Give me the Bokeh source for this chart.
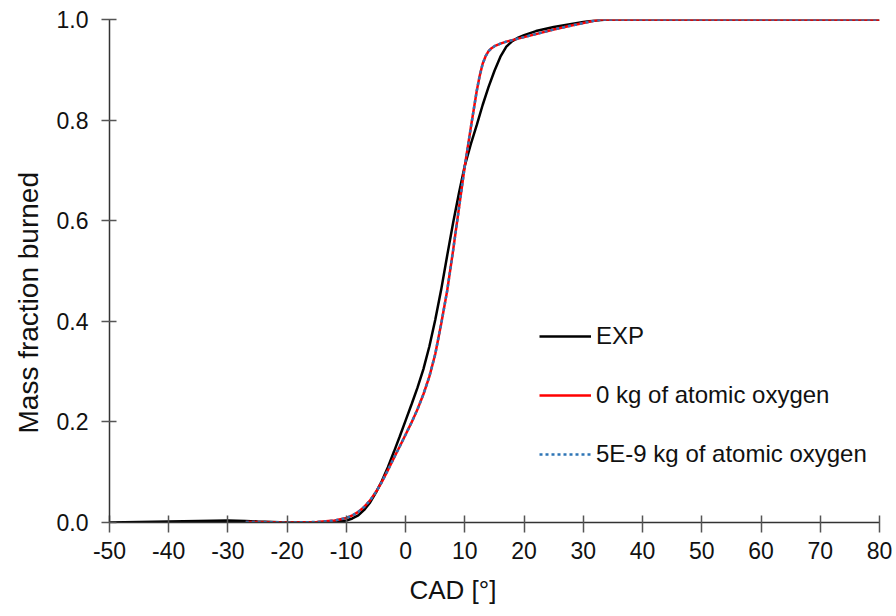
from bokeh.plotting import figure
from bokeh.models import Range1d, Legend, LegendItem, FixedTicker, Title
from bokeh.embed import file_html
from bokeh.resources import INLINE

# Experimental mass fraction burned vs crank angle
exp_cad = [-50, -45, -40, -35, -30, -27, -25, -20, -15, -12, -10, -9, -8, -7, -6, -5, -4,
           -3, -2, -1, 0, 1, 2, 3, 4, 5, 6, 7, 8, 9, 10, 11, 12, 13, 14, 15, 16, 17, 18,
           19, 20, 22, 25, 28, 30, 32, 34, 40, 50, 60, 70, 80]
exp_mfb = [0.000, 0.001, 0.002, 0.003, 0.004, 0.003, 0.002, 0.000, 0.000, 0.001, 0.004,
           0.008, 0.014, 0.025, 0.040, 0.060, 0.083, 0.110, 0.140, 0.171, 0.203, 0.235,
           0.268, 0.305, 0.350, 0.403, 0.463, 0.530, 0.595, 0.655, 0.710, 0.752, 0.790,
           0.830, 0.866, 0.898, 0.926, 0.946, 0.957, 0.964, 0.969, 0.977, 0.985, 0.991,
           0.995, 0.998, 1.000, 1.000, 1.000, 1.000, 1.000, 1.000]

# Simulated curves (both cases coincide)
sim_cad = [-27, -25, -20, -15, -12, -10, -9, -8, -7, -6, -5, -4, -3, -2, -1, 0, 1, 2, 3,
           4, 5, 6, 7, 8, 9, 10, 11, 12, 12.5, 13, 13.5, 14, 14.5, 15, 16, 17, 18, 20, 22,
           25, 28, 30, 32, 33, 40, 50, 60, 70, 80]
sim_mfb_0 = [0.001, 0.001, 0.000, 0.001, 0.004, 0.009, 0.014, 0.021, 0.031, 0.044, 0.061,
             0.081, 0.104, 0.128, 0.151, 0.175, 0.199, 0.225, 0.255, 0.290, 0.335, 0.395,
             0.460, 0.540, 0.625, 0.710, 0.785, 0.858, 0.888, 0.912, 0.927, 0.937, 0.943,
             0.947, 0.952, 0.956, 0.959, 0.965, 0.971, 0.980, 0.988, 0.993, 0.998, 1.000,
             1.000, 1.000, 1.000, 1.000, 1.000]
sim_mfb_5e9 = list(sim_mfb_0)

x_ticks = list(range(-50, 81, 10))
y_ticks = [0.0, 0.2, 0.4, 0.6, 0.8, 1.0]

FONT = "Liberation Sans"

p = figure(width=896, height=616, output_backend="svg", toolbar_location=None,
           x_range=Range1d(-50, 80), y_range=Range1d(0, 1.0),
           min_border_left=109, min_border_right=17, min_border_top=19,
           min_border_bottom=94)
p.outline_line_color = None
p.grid.visible = False
p.background_fill_color = "white"
p.border_fill_color = "white"

r_exp = p.line(exp_cad, exp_mfb, line_color="black", line_width=2.5)
r_0 = p.line(sim_cad, sim_mfb_0, line_color="#ff0000", line_width=2.5)
r_5 = p.line(sim_cad, sim_mfb_5e9, line_color="#2e75b6", line_width=2.5,
             line_dash="3 3")

for ax in (p.xaxis[0], p.yaxis[0]):
    ax.axis_line_color = "#333333"
    ax.axis_line_width = 1.5
    ax.major_tick_line_color = "#555555"
    ax.major_tick_line_width = 1.5
    ax.minor_tick_line_color = None
    ax.major_label_text_font = FONT
    ax.major_label_text_font_size = "23px"
    ax.major_label_text_color = "#111111"

p.xaxis.ticker = FixedTicker(ticks=x_ticks)
p.xaxis.major_label_overrides = {t: str(t) for t in x_ticks}
p.xaxis.major_tick_in = 7
p.xaxis.major_tick_out = 10
p.xaxis.major_label_standoff = 9

p.yaxis.ticker = FixedTicker(ticks=y_ticks)
p.yaxis.major_label_overrides = {t: f"{t:.1f}" for t in y_ticks}
p.yaxis.major_tick_in = 7
p.yaxis.major_tick_out = 8
p.yaxis.major_label_standoff = 13

# Axis titles as side panels, shifted along the frame edge
x_title = Title(text="CAD [°]", align="left", offset=300, standoff=23,
                text_font=FONT, text_font_size="26px", text_font_style="normal",
                text_color="#111111")
y_title = Title(text="Mass fraction burned", align="left", offset=89, standoff=20,
                text_font=FONT, text_font_size="28px", text_font_style="normal",
                text_color="#111111")
p.add_layout(x_title, "below")
p.add_layout(y_title, "left")

legend = Legend(items=[
    LegendItem(label="EXP", renderers=[r_exp]),
    LegendItem(label="0 kg of atomic oxygen", renderers=[r_0]),
    LegendItem(label="5E-9 kg of atomic oxygen", renderers=[r_5]),
], location=(430, 54))
legend.border_line_color = None
legend.background_fill_alpha = 0
legend.padding = 0
legend.margin = 0
legend.glyph_width = 52
legend.glyph_height = 24
legend.label_height = 24
legend.label_standoff = 5
legend.spacing = 31
legend.label_text_font = FONT
legend.label_text_font_size = "24px"
legend.label_text_color = "#111111"
p.add_layout(legend)

open("out.html", "w").write(file_html(p, INLINE))
